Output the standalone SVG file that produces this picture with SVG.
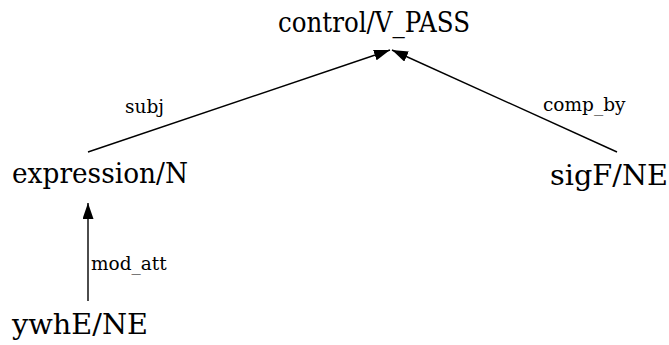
<svg xmlns="http://www.w3.org/2000/svg" width="669" height="345" viewBox="0 0 669 345">
  <style>
    text { font-family: 'DejaVu Serif', serif; fill: #000; }
    .node { font-size: 28px; }
    .lbl { font-size: 18.5px; }
    .edge { stroke: #000; stroke-width: 1.4; fill: none; marker-end: url(#arrow); }
  </style>
  <defs>
    <marker id="arrow" viewBox="0 0 16 11" refX="16" refY="5.5" markerWidth="16" markerHeight="11" markerUnits="userSpaceOnUse" orient="auto">
      <path d="M0,0 L16,5.5 L0,11 Z" fill="#000"/>
    </marker>
  </defs>
  <rect width="669" height="345" fill="#fff"/>
  <g id="connectors">
    <line class="edge" x1="88" y1="152" x2="390" y2="50"/>
    <line class="edge" x1="617" y1="152" x2="392" y2="50"/>
    <line class="edge" x1="88" y1="301" x2="88" y2="203"/>
    <text class="lbl" x="125" y="113">subj</text>
    <text class="lbl" x="543" y="111">comp_by</text>
    <text class="lbl" x="91" y="270">mod_att</text>
  </g>
  <g id="control">
    <text class="node" x="278" y="32" textLength="192" lengthAdjust="spacingAndGlyphs">control/V_PASS</text>
  </g>
  <g id="expression">
    <text class="node" x="12" y="183" textLength="176" lengthAdjust="spacingAndGlyphs">expression/N</text>
  </g>
  <g id="sigF">
    <text class="node" x="550" y="185" textLength="118" lengthAdjust="spacingAndGlyphs">sigF/NE</text>
  </g>
  <g id="ywhE">
    <text class="node" x="12" y="334" textLength="136" lengthAdjust="spacingAndGlyphs">ywhE/NE</text>
  </g>
</svg>
